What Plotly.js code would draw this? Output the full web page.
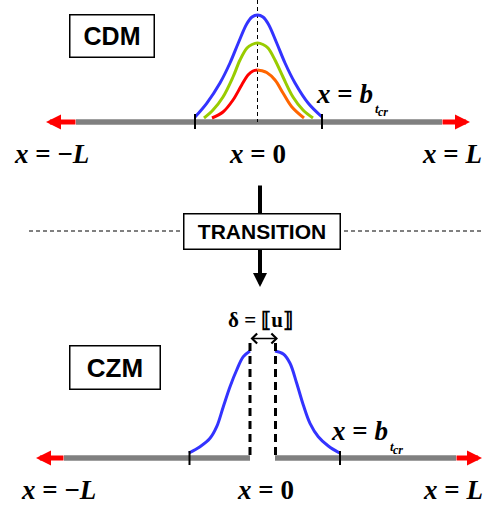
<!DOCTYPE html>
<html><head><meta charset="utf-8">
<script src="https://cdn.plot.ly/plotly-3.0.1.min.js"></script>
<style>html,body{margin:0;padding:0;background:#fff}#chart{width:483px;height:507px}</style>
</head><body><div id="chart"></div>
<script>
// ---------- data (sketch coordinates: x to the right, y downward) ----------
// CDM damage profiles (top panel)
const cdmBlueX   = [195, 206.7, 220, 230, 238.3, 246.7, 252, 257.5, 263, 268.3, 276.7, 285, 295, 308.3, 322];
const cdmBlueY   = [117, 103.3, 83, 63, 43, 24, 17, 15, 17, 24, 43, 63, 83, 103.3, 117];
const cdmGreenX  = [204, 213, 223, 233, 240, 247, 252, 257.5, 263, 268, 275, 283, 293, 303, 313];
const cdmGreenY  = [118, 110, 97, 77, 60, 48, 44.5, 43, 44.5, 48, 60, 77, 97, 110, 118];
const cdmRedX    = [212, 223, 233, 241.7, 248, 253, 257.5];
const cdmRedY    = [118, 112, 100, 85, 75, 71, 70];
const cdmOrangeX = [257.5, 262, 266.7, 275, 283, 291.7, 304];
const cdmOrangeY = [70, 70.8, 72.5, 80, 93, 106.7, 118];
// CZM opening profile (bottom panel), split at the crack
const czmLeftX  = [189, 200, 210, 216.7, 223.3, 230, 236.7, 243.3, 250];
const czmLeftY  = [453, 446.7, 438.3, 426.7, 406.7, 386.7, 370, 356.7, 351];
const czmRightX = [275, 283.3, 290, 296.7, 303.3, 310, 318.3, 328.3, 339.5];
const czmRightY = [351, 354, 363.3, 383.3, 405, 423.3, 436.7, 446, 453];
// text
const panelLabels = ['CDM', 'TRANSITION', 'CZM'];
const endLabels = ['<i>x</i> = −<i>L</i>', '<i>x</i> = 0', '<i>x</i> = <i>L</i>'];
const bLabel = ['<i>x</i> = <i>b</i>', '<i>t</i>', '<i>cr</i>'];
const jumpLabel = '<b>δ = ⟦u⟧</b>';

// ---------- styling ----------
const SERIF = 'Liberation Serif, Times New Roman, serif';
const SANS = 'Liberation Sans, Arial, sans-serif';
const GRAY = '#808080';

function curve(x, y, color) {
  return {x: x, y: y, type: 'scatter', mode: 'lines', hoverinfo: 'skip',
          line: {color: color, width: 3, shape: 'spline', smoothing: 1}};
}
const traces = [
  curve(cdmBlueX, cdmBlueY, '#3333ff'),
  curve(cdmGreenX, cdmGreenY, '#99cc00'),
  curve(cdmRedX, cdmRedY, '#ff0000'),
  curve(cdmOrangeX, cdmOrangeY, '#ff6600'),
  curve(czmLeftX, czmLeftY, '#3333ff'),
  curve(czmRightX, czmRightY, '#3333ff')
];

function seg(x0, y0, x1, y1, color, width, dash, layer) {
  return {type: 'line', xref: 'x', yref: 'y', x0: x0, y0: y0, x1: x1, y1: y1,
          layer: layer || 'above', line: {color: color, width: width, dash: dash || 'solid'}};
}
const shapes = [
  // top bar
  seg(76, 122, 442, 122, GRAY, 5.5, 'solid', 'below'),
  seg(257.5, 0, 257.5, 122, '#000', 1, '4px,3px', 'below'),
  seg(195, 114, 195, 129, '#000', 2),
  seg(322, 114, 322, 129, '#000', 2),
  // separator
  seg(29, 231, 483, 231, '#000', 1, '4px,3px', 'below'),
  // bottom bar with crack
  seg(64, 458, 250, 458, GRAY, 5.5, 'solid', 'below'),
  seg(275, 458, 456, 458, GRAY, 5.5, 'solid', 'below'),
  seg(250, 343, 250, 458, '#000', 3, '8px,5px'),
  seg(275.5, 343, 275.5, 458, '#000', 3, '8px,5px'),
  seg(189.5, 451, 189.5, 465, '#000', 2),
  seg(340, 451, 340, 465, '#000', 2)
];

function arrow(x, y, ax, ay, color, width, size, head, side) {
  return {x: x, y: y, ax: ax, ay: ay, xref: 'x', yref: 'y', axref: 'x', ayref: 'y',
          text: '', showarrow: true, arrowcolor: color, arrowwidth: width,
          arrowsize: size, arrowhead: head, arrowside: side || 'end', standoff: 0, startstandoff: 0};
}
function txt(text, x, y, size, family, xanchor) {
  return {x: x, y: y, xref: 'x', yref: 'y', text: text, showarrow: false,
          xanchor: xanchor || 'center', yanchor: 'middle', borderpad: 0,
          font: {family: family, size: size, color: '#000', weight: 'bold'}};
}
function box(text, x, y, w, h, size) {
  return {x: x, y: y, xref: 'x', yref: 'y', text: '<b>' + text + '</b>', showarrow: false,
          xanchor: 'center', yanchor: 'middle', width: w, height: h, borderpad: 0,
          bgcolor: '#fff', bordercolor: '#000', borderwidth: 1.5,
          font: {family: SANS, size: size, color: '#000'}};
}

const annotations = [
  // red end arrows
  arrow(46, 122, 77, 122, '#ff0000', 5, 0.6, 2),
  arrow(470, 122, 441, 122, '#ff0000', 5, 0.6, 2),
  arrow(36, 458, 65, 458, '#ff0000', 5, 0.6, 2),
  arrow(482, 458, 455, 458, '#ff0000', 5, 0.6, 2),
  // transition arrow
  arrow(260, 287, 260, 184, '#000', 4, 0.7, 2),
  // jump double arrow
  arrow(278, 338.5, 249, 338.5, '#000', 1.5, 1.3, 4, 'end+start'),
  // boxes
  box(panelLabels[0], 111.5, 35.5, 83, 41, 25),
  box(panelLabels[1], 261.5, 231, 155, 34, 21),
  box(panelLabels[2], 114.5, 367, 89, 42, 26),
  // end labels top
  txt(endLabels[0], 51.5, 154, 27, SERIF),
  txt(endLabels[1], 257.5, 154, 27, SERIF),
  txt(endLabels[2], 451.5, 154, 27, SERIF),
  // end labels bottom
  txt(endLabels[0], 58, 490, 27, SERIF),
  txt(endLabels[1], 265, 490, 27, SERIF),
  txt(endLabels[2], 452.5, 490, 27, SERIF),
  // b_tcr top
  txt(bLabel[0], 374, 94, 27, SERIF, 'right'),
  txt(bLabel[1], 373.5, 108, 13, SERIF, 'left'),
  txt(bLabel[2], 377, 112, 12, SERIF, 'left'),
  // b_tcr bottom
  txt(bLabel[0], 389, 431, 27, SERIF, 'right'),
  txt(bLabel[1], 388.5, 446, 13, SERIF, 'left'),
  txt(bLabel[2], 392, 450, 12, SERIF, 'left'),
  // jump label
  txt(jumpLabel, 260, 320, 21, SERIF)
];

const layout = {
  width: 483, height: 507,
  margin: {l: 0, r: 0, t: 0, b: 0},
  paper_bgcolor: '#fff', plot_bgcolor: '#fff',
  showlegend: false,
  xaxis: {range: [0, 483], visible: false, fixedrange: true},
  yaxis: {range: [507, 0], visible: false, fixedrange: true},
  shapes: shapes,
  annotations: annotations
};

Plotly.newPlot('chart', traces, layout, {staticPlot: true, displayModeBar: false});
</script>
</body></html>
